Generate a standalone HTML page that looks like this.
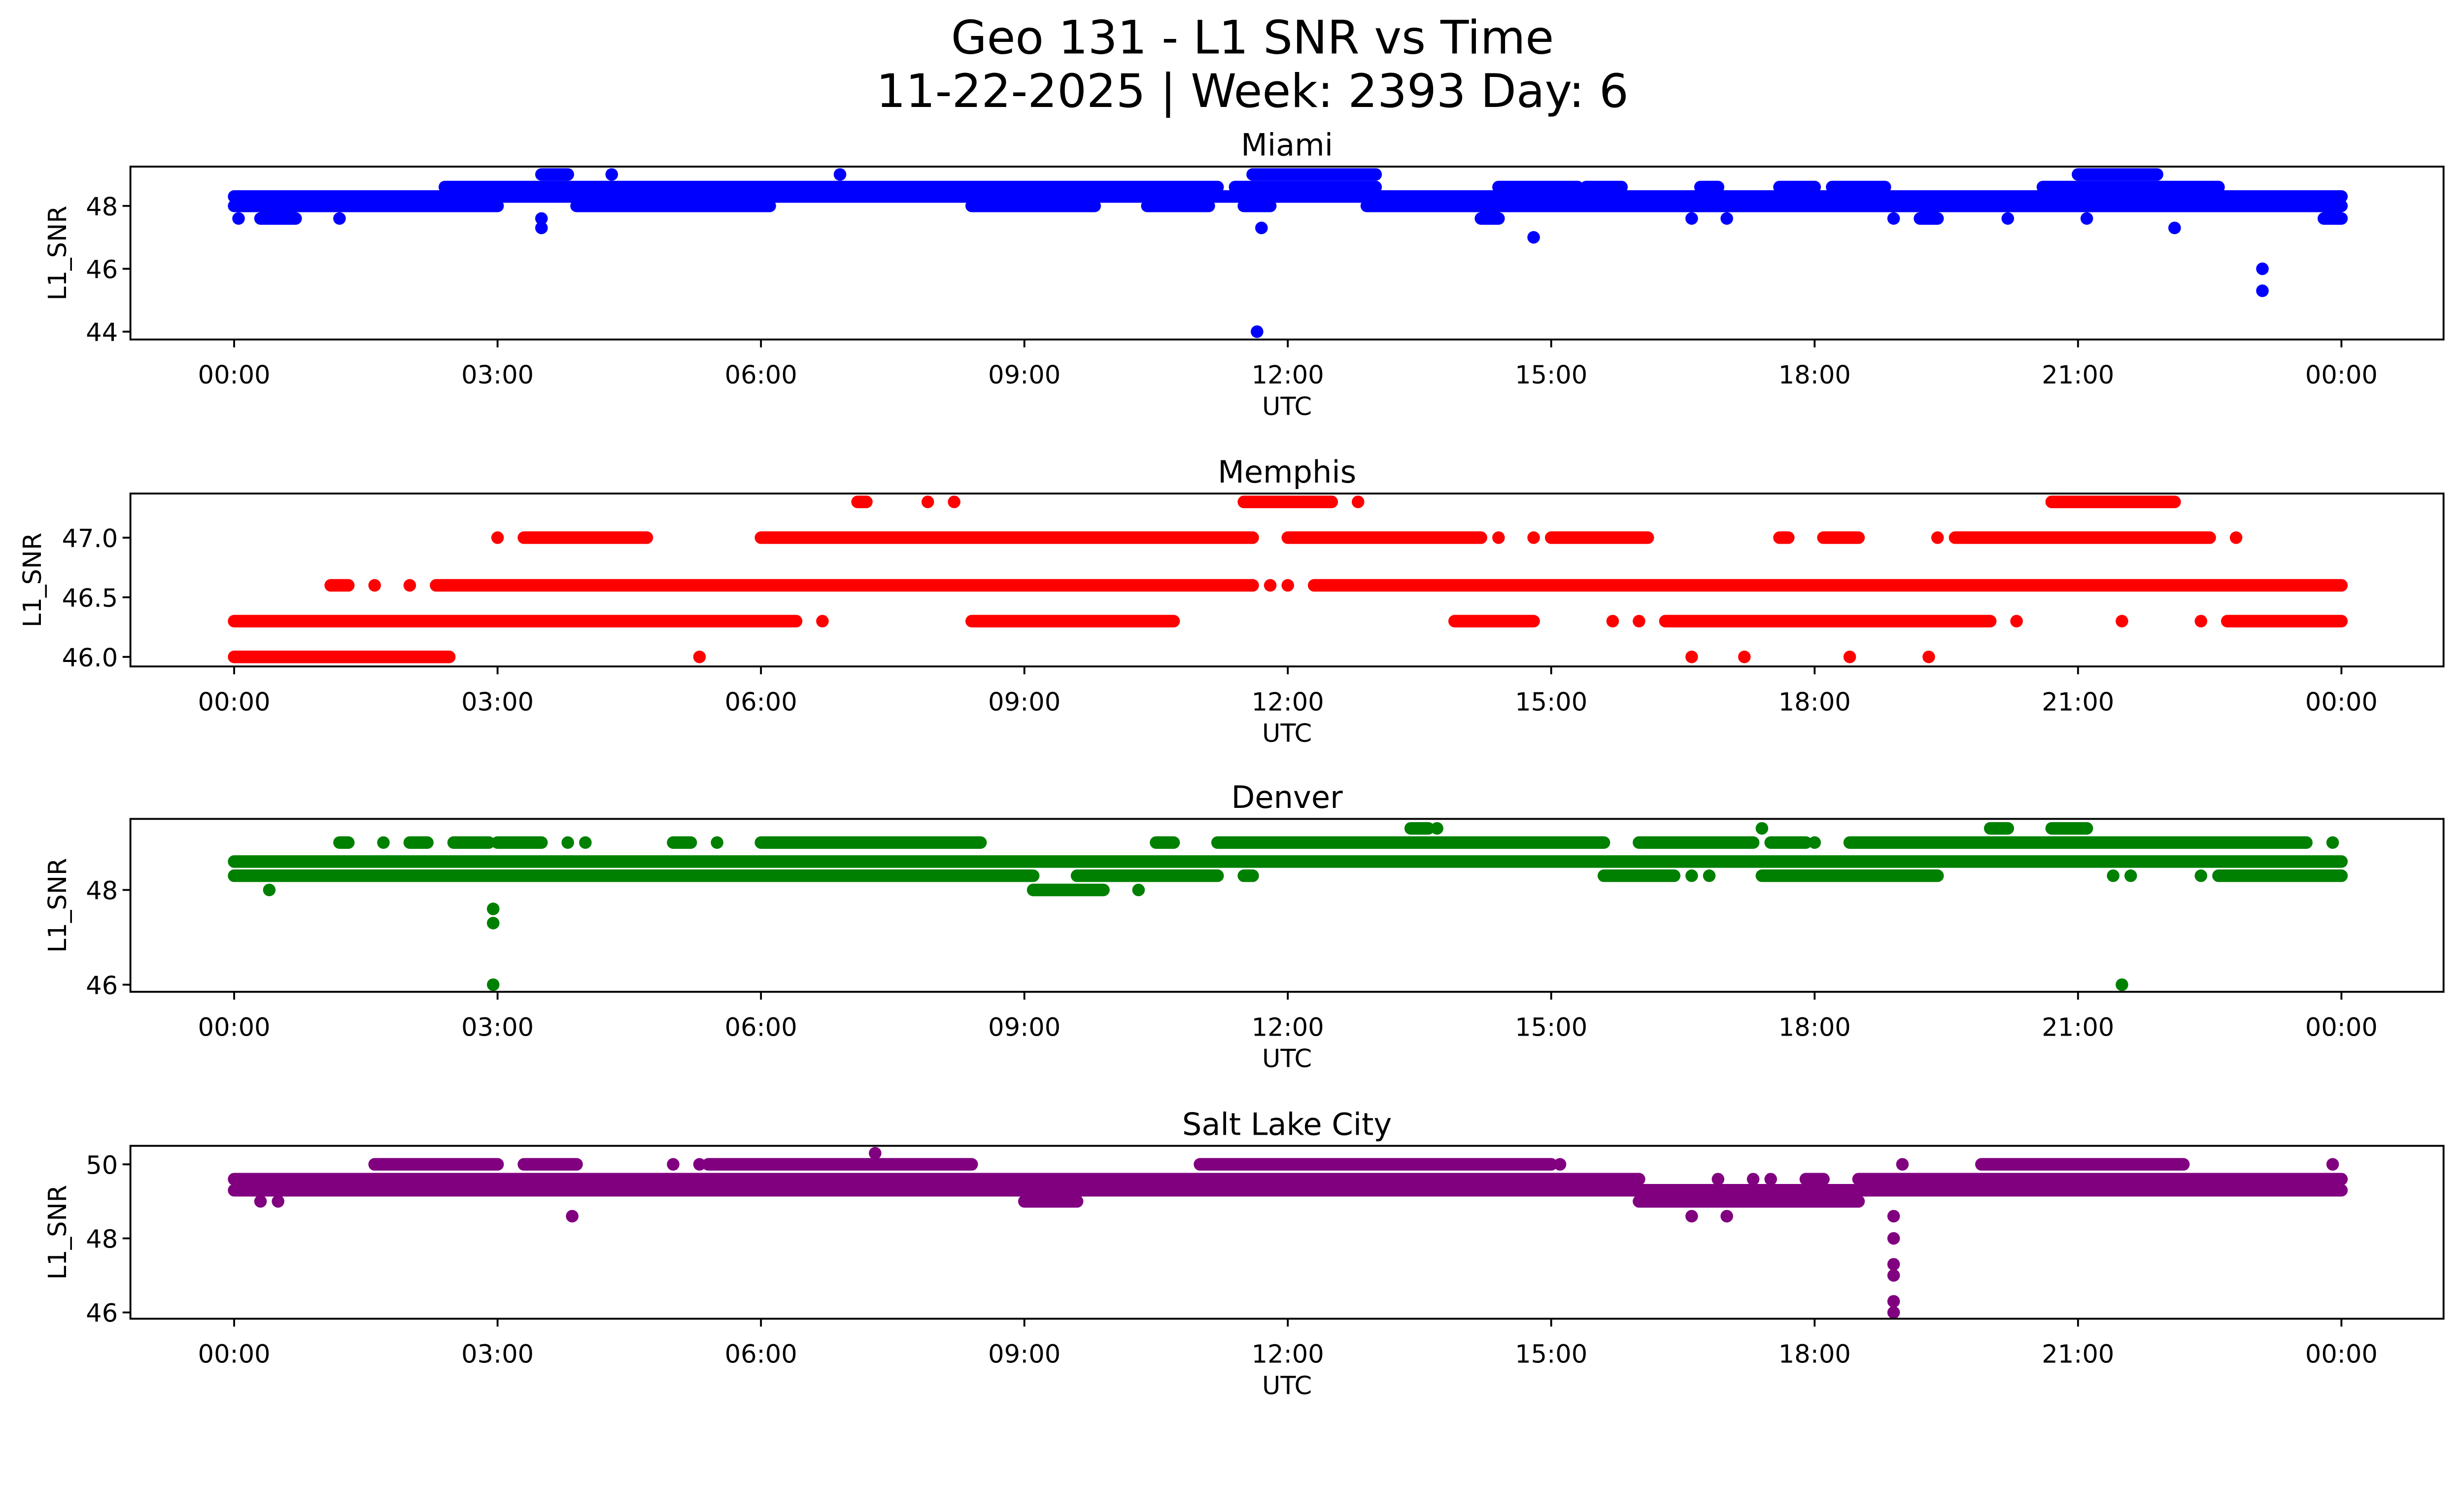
<!DOCTYPE html>
<html><head><meta charset="utf-8"><style>
html,body{margin:0;padding:0;background:#fff;width:100%;overflow:hidden}
svg{display:block;position:absolute;left:0;top:0;width:100vw;height:calc(100vw * 3033 / 5278)}
</style></head>
<body>
<svg id="fig" xmlns="http://www.w3.org/2000/svg" viewBox="0 0 1568 901" preserveAspectRatio="xMidYMin meet" font-family="DejaVu Sans, Liberation Sans, sans-serif">
<rect width="1568" height="901" fill="#fff"/>
<text x="797" y="34" font-size="29.5" text-anchor="middle">Geo 131 - L1 SNR vs Time</text>
<text x="797" y="68" font-size="29.5" text-anchor="middle">11-22-2025 | Week: 2393 Day: 6</text>
<g id="panels"></g>
</svg>
<script>
// ---- data (hours UTC, value) ----
const xTickLabels = ["00:00","03:00","06:00","09:00","12:00","15:00","18:00","21:00","00:00"];
const xTickHours = [0,3,6,9,12,15,18,21,24];
const stationNames = ["Miami","Memphis","Denver","Salt Lake City"];
const stationColors = ["#0000ff","#ff0000","#008000","#800080"];
const miamiTicks = [44,46,48];
const memphisTicks = [46.0,46.5,47.0];
const denverTicks = [46,48];
const slcTicks = [46,48,50];
// runs: [startHour, endHour, value]
const miamiRuns = [[0,3,48.0],[3.9,6.1,48.0],[8.4,9.8,48.0],[10.4,11.1,48.0],[11.5,11.8,48.0],[12.9,24,48.0],
 [0,24,48.3],
 [2.4,11.2,48.6],[11.4,13,48.6],[14.4,15.3,48.6],[15.4,15.8,48.6],[16.7,16.9,48.6],[17.6,18,48.6],[18.2,18.8,48.6],[20.6,22.6,48.6],
 [3.5,3.8,49.0],[4.3,4.3,49.0],[6.9,6.9,49.0],[11.6,13,49.0],[21,21.9,49.0],
 [0.05,0.05,47.6],[0.3,0.7,47.6],[1.2,1.2,47.6],[3.5,3.5,47.6],[14.2,14.4,47.6],[16.6,16.6,47.6],[17,17,47.6],[18.9,18.9,47.6],[19.2,19.4,47.6],[20.2,20.2,47.6],[21.1,21.1,47.6],[23.8,24,47.6],
 [3.5,3.5,47.3],[11.7,11.7,47.3],[11.65,11.65,44.0],[14.8,14.8,47.0],[23.1,23.1,46.0],[23.1,23.1,45.3],[22.1,22.1,47.3]];
const memphisRuns = [[0,2.45,46.0],[5.3,5.3,46.0],[16.6,16.6,46.0],[17.2,17.2,46.0],[18.4,18.4,46.0],[19.3,19.3,46.0],
 [0,6.4,46.3],[6.7,6.7,46.3],[8.4,10.7,46.3],[13.9,14.8,46.3],[15.7,15.7,46.3],[16.0,16.0,46.3],[16.3,20.0,46.3],[20.3,20.3,46.3],[21.5,21.5,46.3],[22.4,22.4,46.3],[22.7,24,46.3],
 [1.1,1.3,46.6],[1.6,1.6,46.6],[2.0,2.0,46.6],[2.3,11.6,46.6],[11.8,11.8,46.6],[12.0,12.0,46.6],[12.3,24,46.6],
 [3.0,3.0,47.0],[3.3,4.7,47.0],[6.0,11.6,47.0],[12.0,14.2,47.0],[14.4,14.4,47.0],[14.8,14.8,47.0],[15.0,16.1,47.0],[17.6,17.7,47.0],[18.1,18.5,47.0],[19.4,19.4,47.0],[19.6,22.5,47.0],[22.8,22.8,47.0],
 [7.1,7.2,47.3],[7.9,7.9,47.3],[8.2,8.2,47.3],[11.5,12.5,47.3],[12.8,12.8,47.3],[20.7,22.1,47.3]];
const denverRuns = [[0,9.1,48.3],[9.6,11.2,48.3],[11.5,11.6,48.3],[15.6,16.4,48.3],[16.6,16.6,48.3],[16.8,16.8,48.3],[17.4,19.4,48.3],[21.4,21.4,48.3],[21.6,21.6,48.3],[22.4,22.4,48.3],[22.6,24,48.3],
 [0,24,48.6],
 [0.4,0.4,48.0],[9.1,9.9,48.0],[10.3,10.3,48.0],
 [1.2,1.3,49.0],[1.7,1.7,49.0],[2.0,2.2,49.0],[2.5,2.9,49.0],[3.0,3.5,49.0],[3.8,3.8,49.0],[4.0,4.0,49.0],[5.0,5.2,49.0],[5.5,5.5,49.0],[6.0,8.5,49.0],[10.5,10.7,49.0],[11.2,15.6,49.0],[16.0,17.3,49.0],[17.5,17.9,49.0],[18.0,18.0,49.0],[18.4,23.6,49.0],[23.9,23.9,49.0],
 [13.4,13.6,49.3],[13.7,13.7,49.3],[17.4,17.4,49.3],[20.0,20.2,49.3],[20.7,21.1,49.3],
 [2.95,2.95,47.6],[2.95,2.95,47.3],[2.95,2.95,46.0],[21.5,21.5,46.0]];
const slcRuns = [[0,16,49.3],[16,18.5,49.3],[18.5,24,49.3],
 [0,16,49.6],[16.9,16.9,49.6],[17.3,17.3,49.6],[17.5,17.5,49.6],[17.9,18.1,49.6],[18.5,24,49.6],
 [0.3,0.3,49.0],[0.5,0.5,49.0],[9.0,9.6,49.0],[16.0,18.5,49.0],
 [1.6,3.0,50.0],[3.3,3.9,50.0],[5.0,5.0,50.0],[5.3,5.3,50.0],[5.4,8.4,50.0],[11.0,15.0,50.0],[15.1,15.1,50.0],[19.0,19.0,50.0],[19.9,22.2,50.0],[23.9,23.9,50.0],
 [7.3,7.3,50.3],
 [3.85,3.85,48.6],[16.6,16.6,48.6],[17.0,17.0,48.6],
 [18.9,18.9,48.6],[18.9,18.9,48.0],[18.9,18.9,47.3],[18.9,18.9,47.0],[18.9,18.9,46.3],[18.9,18.9,46.0]];
const allRuns = [miamiRuns, memphisRuns, denverRuns, slcRuns];
const allTicks = [miamiTicks, memphisTicks, denverTicks, slcTicks];
const yLims = [[43.75,49.25],[45.92,47.37],[45.85,49.5],[45.83,50.5]];
const tickFmt = [0,1,0,0];

const NS = "http://www.w3.org/2000/svg";
const L = 83, R = 1555, H = 110;
const tops = [106, 314, 521, 729];
function xOf(h){ return 149 + h * (1490 - 149) / 24; }
function mk(tag, attrs, parent){ const e = document.createElementNS(NS, tag); for (const k in attrs) e.setAttribute(k, attrs[k]); parent.appendChild(e); return e; }
const root = document.getElementById("panels");
for (let p = 0; p < 4; p++) {
  const top = tops[p], bot = top + H;
  const [y0, y1] = yLims[p];
  const yOf = v => bot - (v - y0) / (y1 - y0) * H;
  const g = mk("g", {}, root);
  
  
  const clip = mk("clipPath", {id: "c" + p}, g);
  mk("rect", {x: L, y: top, width: R - L, height: H}, clip);
  const t = mk("text", {x: (L + R) / 2, y: top - 7, "font-size": 19.5, "text-anchor": "middle"}, g);
  t.textContent = stationNames[p];
  
  
  const pts = mk("g", {"clip-path": "url(#c" + p + ")", stroke: stationColors[p], "stroke-width": 8, "stroke-linecap": "round", fill: "none"}, g);
  
  
  for (const r of allRuns[p]) {
    const y = yOf(r[2]);
    const ln = mk("line", {x1: xOf(r[0]), x2: xOf(r[1]) + 0.01, y1: y, y2: y}, pts);
    
    
  }
  const frame = mk("rect", {x: L, y: top, width: R - L, height: H, fill: "none", stroke: "#000", "stroke-width": 1.2}, g);
  
  
  for (let i = 0; i < xTickHours.length; i++) {
    const x = xOf(xTickHours[i]);
    mk("line", {x1: x, x2: x, y1: bot, y2: bot + 5, stroke: "#000", "stroke-width": 1.2}, g);
    const tl = mk("text", {x: x, y: bot + 28, "font-size": 16, "text-anchor": "middle"}, g);
    tl.textContent = xTickLabels[i];
    
    
  }
  const xl = mk("text", {x: (L + R) / 2, y: bot + 48, "font-size": 16, "text-anchor": "middle"}, g);
  xl.textContent = "UTC";
  
  
  for (const v of allTicks[p]) {
    const y = yOf(v);
    mk("line", {x1: L - 5, x2: L, y1: y, y2: y, stroke: "#000", "stroke-width": 1.2}, g);
    const yl = mk("text", {x: L - 8, y: y + 6, "font-size": 16, "text-anchor": "end"}, g);
    yl.textContent = v.toFixed(tickFmt[p]);
    
    
  }
  const ylab = mk("text", {x: 0, y: 0, "font-size": 16, "text-anchor": "middle", transform: "translate(" + (p === 1 ? 26 : 42) + "," + (top + H / 2) + ") rotate(-90)"}, g);
  ylab.textContent = "L1_SNR";
  
  
}
</script>
</body></html>
